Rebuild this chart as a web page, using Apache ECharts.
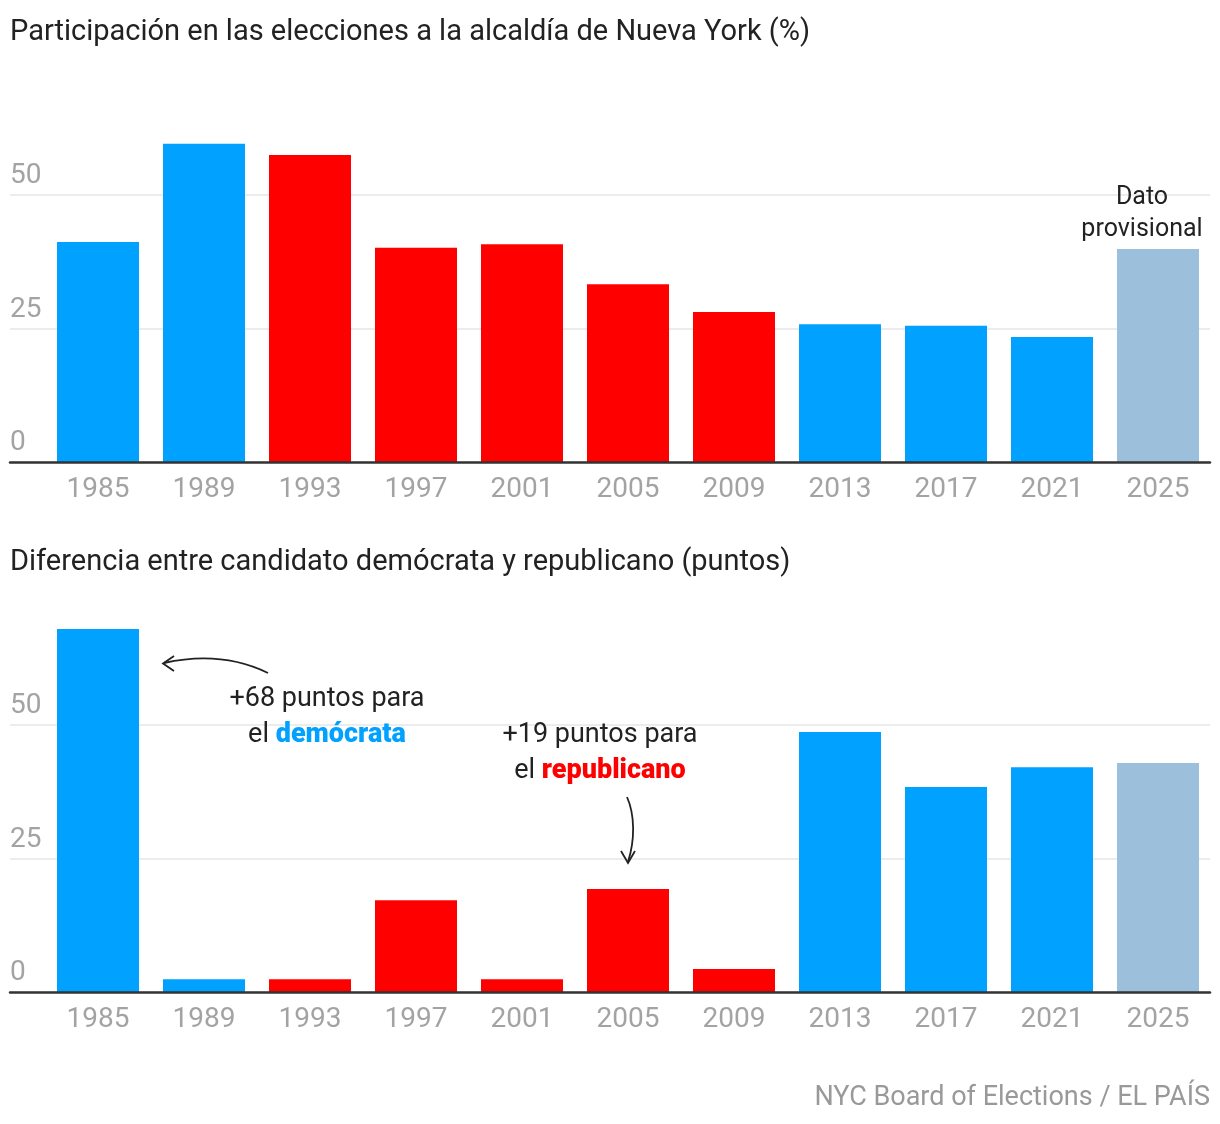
<!DOCTYPE html>
<html>
<head>
<meta charset="utf-8">
<script src="https://cdn.jsdelivr.net/npm/echarts@6/dist/echarts.min.js"></script>
<style>html,body{margin:0;padding:0;background:#fff}#c{width:1220px;height:1124px}</style>
</head>
<body>
<div id="c"></div>
<script>
const years = ['1985','1989','1993','1997','2001','2005','2009','2013','2017','2021','2025'];
const turnout = [41.2, 59.6, 57.5, 40.1, 40.8, 33.3, 28.1, 25.8, 25.5, 23.4, 39.9];
const margin = [68, 2.4, 2.4, 17.2, 2.4, 19.3, 4.3, 48.7, 38.4, 42.1, 42.9];
const winner = ['D','D','R','R','R','R','R','D','D','D','P'];
const yTicks = [0, 25, 50];

const partyColor = {D: '#00A1FF', R: '#FF0000', P: '#9CBFDB'};
const FONT = 'Roboto';
const TXT = '#222';
const GRAY = '#a3a3a3';
const pxPerUnit = 267 / 50;

function colored(vals) {
  return vals.map((v, i) => ({value: v, itemStyle: {color: partyColor[winner[i]]}}));
}

// layout
const top0 = 462, top50 = 195;
const bot0 = 992, bot50 = 725;
const topMax = 60, botMax = 70;

const chart = echarts.init(document.getElementById('c'), null, {renderer: 'canvas'});

function bgGrid(zeroY, fiftyY) {
  return {left: 10, right: 10, top: fiftyY, height: zeroY - fiftyY};
}
function barGrid(zeroY, max) {
  const h = max * pxPerUnit;
  return {left: 45, right: 9, top: zeroY - h, height: h};
}

const bgX = (gi) => ({
  gridIndex: gi, type: 'value', min: 0, max: 1, z: 10,
  axisLine: {show: true, lineStyle: {color: '#333', width: 2.5}},
  axisTick: {show: false}, axisLabel: {show: false}, splitLine: {show: false}
});
const bgY = (gi) => ({
  gridIndex: gi, type: 'value', min: 0, max: 50, interval: 25,
  axisLine: {show: false}, axisTick: {show: false},
  axisLabel: {inside: true, margin: 0, verticalAlign: 'bottom', padding: [0, 0, 5, 0],
    color: GRAY, fontSize: 28, fontFamily: FONT, align: 'left'},
  splitLine: {show: true, lineStyle: {color: '#e6e6e6', width: 1.5}}
});
const barX = (gi) => ({
  gridIndex: gi, type: 'category', data: years,
  axisLine: {show: false}, axisTick: {show: false},
  axisLabel: {color: GRAY, fontSize: 28, fontFamily: FONT, margin: 14}
});
const barY = (gi, max) => ({
  gridIndex: gi, type: 'value', min: 0, max: max, show: false
});

const option = {
  backgroundColor: '#fff',
  animation: false,
  title: [
    {text: 'Participación en las elecciones a la alcaldía de Nueva York (%)', left: 10, top: 18, padding: 0,
      textStyle: {fontFamily: FONT, fontSize: 29, fontWeight: 'normal', color: TXT}},
    {text: 'Diferencia entre candidato demócrata y republicano (puntos)', left: 10, top: 548, padding: 0,
      textStyle: {fontFamily: FONT, fontSize: 29, fontWeight: 'normal', color: TXT}}
  ],
  grid: [bgGrid(top0, top50), barGrid(top0, topMax), bgGrid(bot0, bot50), barGrid(bot0, botMax)],
  xAxis: [bgX(0), barX(1), bgX(2), barX(3)],
  yAxis: [bgY(0), barY(1, topMax), bgY(2), barY(3, botMax)],
  series: [
    {type: 'bar', xAxisIndex: 1, yAxisIndex: 1, data: colored(turnout), barWidth: 82},
    {type: 'bar', xAxisIndex: 3, yAxisIndex: 3, data: colored(margin), barWidth: 82}
  ],
  graphic: [
    {type: 'text', x: 1142, y: 182, z: 20,
      style: {text: 'Dato\nprovisional', align: 'center', verticalAlign: 'top', lineHeight: 32,
        fontFamily: FONT, fontSize: 25, fill: TXT}},
    {type: 'text', x: 327, y: 681, z: 20,
      style: {text: '{a|+68 puntos para}\n{a|el }{b|demócrata}', align: 'center', verticalAlign: 'top',
        rich: {a: {fontFamily: FONT, fontSize: 27, fill: TXT, lineHeight: 36},
               b: {fontFamily: FONT, fontSize: 27, fontWeight: 900, fill: '#00A1FF', lineHeight: 36}}}},
    {type: 'text', x: 600, y: 717, z: 20,
      style: {text: '{a|+19 puntos para}\n{a|el }{b|republicano}', align: 'center', verticalAlign: 'top',
        rich: {a: {fontFamily: FONT, fontSize: 27, fill: TXT, lineHeight: 36},
               b: {fontFamily: FONT, fontSize: 27, fontWeight: 900, fill: '#FF0000', lineHeight: 36}}}},
    {type: 'bezierCurve', z: 20,
      shape: {x1: 268, y1: 673, cpx1: 235, cpy1: 657, cpx2: 200, cpy2: 655, x2: 164, y2: 663},
      style: {stroke: TXT, lineWidth: 1.8, fill: null}},
    {type: 'polyline', z: 20,
      shape: {points: [[174, 656], [163, 663.5], [174, 671]]},
      style: {stroke: TXT, lineWidth: 1.8, fill: null}},
    {type: 'bezierCurve', z: 20,
      shape: {x1: 627, y1: 797, cpx1: 635, cpy1: 815, cpx2: 635, cpy2: 840, x2: 628, y2: 862},
      style: {stroke: TXT, lineWidth: 1.8, fill: null}},
    {type: 'polyline', z: 20,
      shape: {points: [[621, 851], [628, 863], [635, 851]]},
      style: {stroke: TXT, lineWidth: 1.8, fill: null}},
    {type: 'text', x: 1210, y: 1098, z: 20,
      style: {text: 'NYC Board of Elections / EL PAÍS', align: 'right', verticalAlign: 'middle',
        fontFamily: FONT, fontSize: 27, fill: '#999'}}
  ]
};
chart.setOption(option);
</script>
</body>
</html>
